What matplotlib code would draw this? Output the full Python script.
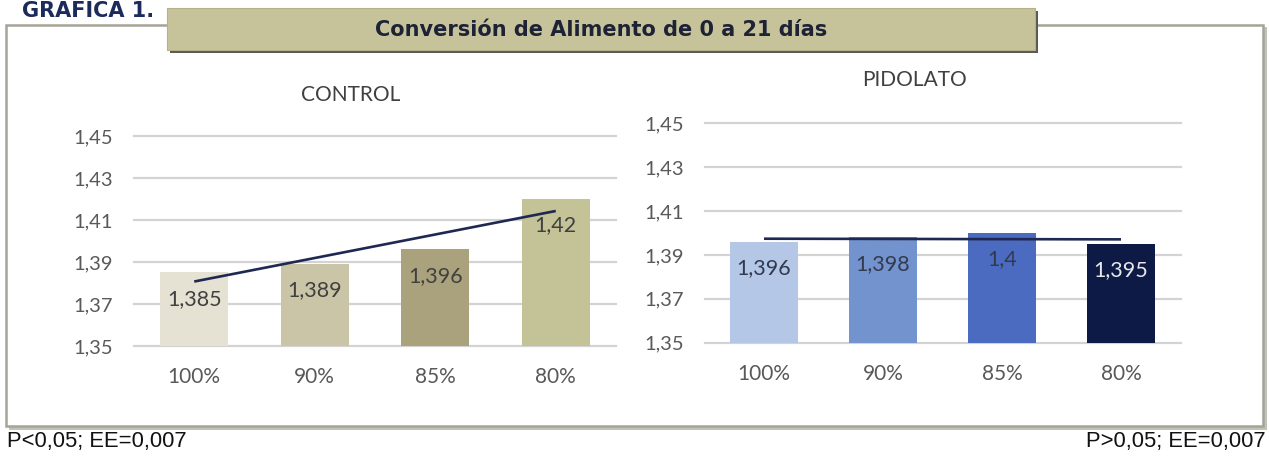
import numpy as np
import matplotlib
matplotlib.use("Agg")
import matplotlib.pyplot as plt
from matplotlib.patches import Rectangle
from matplotlib.ticker import FuncFormatter

# ---- data ----
categories = ["100%", "90%", "85%", "80%"]
control_values = [1.385, 1.389, 1.396, 1.42]
pidolato_values = [1.396, 1.398, 1.4, 1.395]
y_ticks = [1.35, 1.37, 1.39, 1.41, 1.43, 1.45]

control_colors = ["#e5e1d3", "#cac5a6", "#a9a27d", "#c4c297"]
pidolato_colors = ["#b4c7e7", "#7393cf", "#4a6bc0", "#0c1a45"]
control_label_colors = ["#404040", "#404040", "#404040", "#404040"]
pidolato_label_colors = ["#333a50", "#333a50", "#333a50", "#e8e8e8"]

W, H = 1269, 459
fig = plt.figure(figsize=(W / 100, H / 100), dpi=100)
fig.patch.set_facecolor("white")

FONT = "Lato"


def fx(px):
    return px / W


def fy(py):
    return 1 - py / H


# ---- outer frame with shadow ----
fig.patches.append(Rectangle((fx(9), fy(430)), fx(1258), (430 - 27) / H,
                             transform=fig.transFigure, facecolor="#c2c2b8",
                             edgecolor="none", zorder=0))
fig.patches.append(Rectangle((fx(6), fy(426)), fx(1257), (426 - 25) / H,
                             transform=fig.transFigure, facecolor="white",
                             edgecolor="#a4a497", lw=1.8, zorder=1))

# ---- title box with shadow ----
fig.patches.append(Rectangle((fx(170), fy(53)), fx(868), (53 - 11) / H,
                             transform=fig.transFigure, facecolor="#5a5a55",
                             edgecolor="none", zorder=2))
fig.patches.append(Rectangle((fx(167), fy(50)), fx(868), (50 - 8) / H,
                             transform=fig.transFigure, facecolor="#c6c39b",
                             edgecolor="#b5b28a", lw=0.8, zorder=3))
fig.text(fx(601), fy(30), "Conversión de Alimento de 0 a 21 días",
         ha="center", va="center", fontsize=15, fontweight="bold",
         family="DejaVu Sans", color="#1e2235", zorder=4)
fig.text(fx(22), fy(11), "GRAFICA 1.", ha="left", va="center",
         fontsize=15, fontweight="bold", family="DejaVu Sans",
         color="#1c2a5c")

# ---- footers ----
fig.text(fx(7), fy(441), "P<0,05; EE=0,007", ha="left", va="center",
         fontsize=15.8, family="Liberation Sans", color="#111111")
fig.text(fx(1266), fy(441), "P>0,05; EE=0,007", ha="right", va="center",
         fontsize=15.8, family="Liberation Sans", color="#111111")

comma_fmt = FuncFormatter(lambda v, p: f"{v:.2f}".replace(".", ","))


def panel(rect, values, colors, label_colors, title, title_xy):
    ax = fig.add_axes(rect, zorder=5)
    ax.set_facecolor("none")
    x = np.arange(len(categories))
    ax.bar(x, [v - y_ticks[0] for v in values], bottom=y_ticks[0],
           width=0.565, color=colors, zorder=2)
    # linear trendline
    k, b = np.polyfit(x, values, 1)
    ax.plot([x[0], x[-1]], [k * x[0] + b, k * x[-1] + b],
            color="#1f2850", lw=1.9, zorder=3, solid_capstyle="butt")
    for xi, v, c in zip(x, values, label_colors):
        ax.annotate(f"{v:g}".replace(".", ","), (xi, v), xytext=(0, -19),
                    textcoords="offset points", ha="center", va="center",
                    fontsize=15.5, family=FONT, color=c, zorder=4)
    ax.set_xlim(-0.5, len(categories) - 0.5)
    ax.set_ylim(y_ticks[0], y_ticks[-1])
    ax.set_yticks(y_ticks)
    ax.yaxis.set_major_formatter(comma_fmt)
    ax.set_xticks(x)
    ax.set_xticklabels(categories)
    for s in ax.spines.values():
        s.set_visible(False)
    ax.tick_params(axis="both", length=0, colors="#595959")
    ax.tick_params(axis="y", pad=15, labelsize=14.5)
    ax.tick_params(axis="x", pad=15, labelsize=15)
    for lab in ax.get_xticklabels() + ax.get_yticklabels():
        lab.set_family(FONT)
    ax.set_axisbelow(True)
    ax.grid(axis="y", color="#d3d3d3", lw=1.6)
    for gl in ax.get_ygridlines():
        gl.set_clip_on(False)
    ax.grid(axis="x", visible=False)
    fig.text(fx(title_xy[0]), fy(title_xy[1]), title, ha="center",
             va="center", fontsize=15, family=FONT, color="#404040")
    return ax


panel([fx(134), fy(346), fx(482), 210 / H], control_values, control_colors,
      control_label_colors, "CONTROL", (351, 95))
panel([fx(704.5), fy(342.7), fx(476), 219.4 / H], pidolato_values,
      pidolato_colors, pidolato_label_colors, "PIDOLATO", (915, 80))

fig.savefig("out.png", dpi=100, facecolor="white")
